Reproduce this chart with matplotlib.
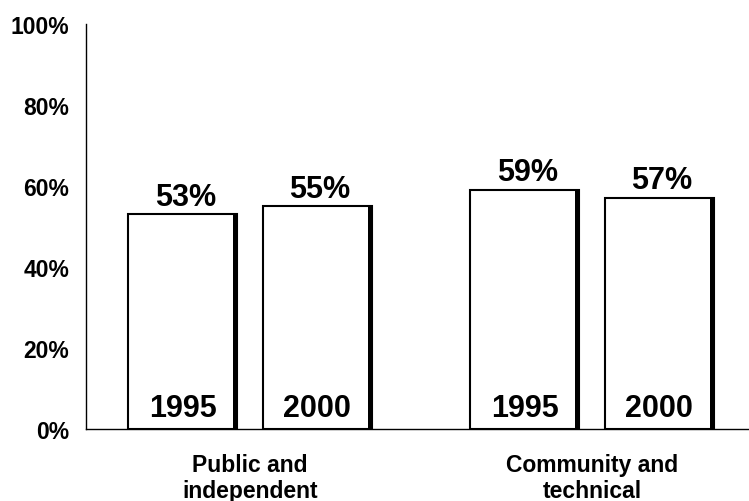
import matplotlib
matplotlib.use("Agg")
import matplotlib.pyplot as plt
import numpy as np

categories = ["Public and\nindependent", "Community and\ntechnical"]
years = ["1995", "2000"]
values_1995 = [53, 59]
values_2000 = [55, 57]
ytick_vals = [0, 20, 40, 60, 80, 100]
ytick_labels = ["0%", "20%", "40%", "60%", "80%", "100%"]

plt.rcParams['font.family'] = ['Liberation Sans', 'DejaVu Sans']
plt.rcParams['font.weight'] = 'bold'

fig = plt.figure(figsize=(7.49, 5.02), dpi=100)
ax = fig.add_axes([86/749, 72/502, 1 - 86/749, (430-25)/502])

x = np.arange(len(categories))
offset = 0.197
width = 0.32
thick_px = 5
px_per_unit = 342.0
thick_units = thick_px / px_per_unit

for vals, off, yr in [(values_1995, -offset, years[0]), (values_2000, offset, years[1])]:
    bars = ax.bar(x + off, vals, width=width, color='white', edgecolor='black',
                  linewidth=1.5, zorder=2)
    for b, v in zip(bars, vals):
        xr = b.get_x() + b.get_width() - thick_units / 2
        ax.vlines(xr, 0, v, colors='black', linewidth=thick_px * 0.72, zorder=3)
        cx = b.get_x() + b.get_width() / 2
        ax.annotate(f"{v}%", (cx, v), xytext=(2, 7), textcoords='offset points',
                    ha='center', va='baseline', fontsize=22, fontweight='bold')
        ax.annotate(yr, (cx, 0), xytext=(0, 9.5), textcoords='offset points',
                    ha='center', va='baseline', fontsize=22, fontweight='bold')

ax.set_xlim(-164/342, (749 - 86 - 164)/342)
ax.set_ylim(0, 100)
ax.set_yticks(ytick_vals)
ax.set_yticklabels(ytick_labels, fontsize=16.5, fontweight='bold')
ax.set_xticks(x)
ax.set_xticklabels(categories, fontsize=16.5, fontweight='bold', linespacing=1.2)
ax.tick_params(axis='both', length=0)
ax.tick_params(axis='y', pad=12)
ax.tick_params(axis='x', pad=17)
for s in ['top', 'right']:
    ax.spines[s].set_visible(False)
ax.spines['left'].set_linewidth(1.0)
ax.spines['bottom'].set_linewidth(1.0)

fig.savefig("out.png", dpi=100)
